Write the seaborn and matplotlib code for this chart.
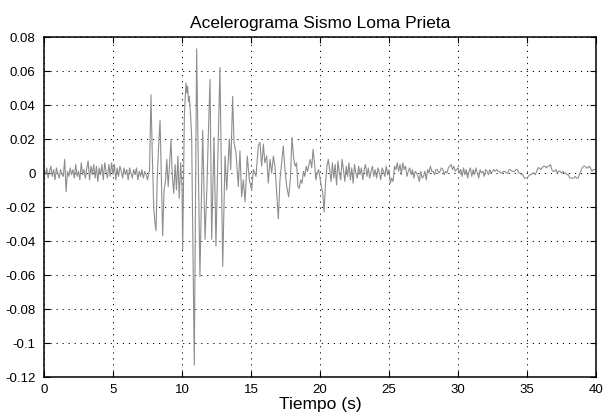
import numpy as np
import pandas as pd
import matplotlib
matplotlib.use("Agg")
import matplotlib.pyplot as plt
import seaborn as sns

# ---- data (acceleration in units of 1e-3 g) ----
t_quiet = np.round(np.arange(0.0, 7.61, 0.1), 2)
a_quiet = [2, -1, 3, -3, 1, 4, -2, 2, -4, 3,
           0, -3, 2, -1, -2, 8, -11, 1, -2, 3,
           -1, 2, -3, 5, -2, 1, -4, 6, -1, 2,
           -3, 3, 7, -4, 4, -1, 5, -3, 4, -5,
           3, -1, 5, -4, 6, 1, -3, 5, -2, 6,
           -1, 5, -4, 3, -2, 4, 1, -3, 3, -1,
           2, -4, 3, 0, -3, 2, -1, 3, -4, 1,
           -2, 2, -3, 1, -1, -4, 0]

t_strong = [7.65, 7.75, 7.85, 7.95, 8.05, 8.12, 8.2, 8.3, 8.41, 8.5,
            8.6, 8.7, 8.8, 8.9, 9.0, 9.1, 9.2, 9.3, 9.4, 9.5,
            9.6, 9.7, 9.8, 9.9, 10.0, 10.05, 10.17, 10.29, 10.35, 10.41,
            10.47, 10.53, 10.63, 10.7, 10.89, 11.06, 11.3, 11.5, 11.67, 11.8,
            11.9, 12.03, 12.15, 12.32, 12.46, 12.6, 12.75, 12.95, 13.12, 13.24,
            13.43, 13.53, 13.67, 13.77, 13.91, 14.08, 14.2, 14.32, 14.44, 14.57,
            14.73, 14.88, 15.05, 15.17, 15.36, 15.53, 15.65, 15.77, 15.9, 16.0,
            16.14, 16.25, 16.38, 16.5, 16.62, 16.74, 16.86, 16.98, 17.1, 17.22,
            17.34, 17.46, 17.59, 17.73, 17.85, 17.97]
a_strong = [2, 46, 10, -20, -30, -34, -5, 15, 31, 0,
            -37, -10, -5, 8, -8, 5, 19.5, -2, -12, 5,
            -10, 10, -15, 6, -8, -45, 34, 53, 47, 51,
            42, 45, 33, 21, -113, 73, -61, 25, -39, -10,
            20, 55, -39, 21, -43, 10, 62, -55, 10, -10,
            20, 2, 45, 18, 12, -8, 13, -14, -4, -17,
            10, -4, -10, 2, -2, 16, 18, 4, 17, 6,
            10, -6, 8, 0, 10, 4, -12, -27, -4, 6,
            16, 2, -8, -14, -4, 21]

t_decay = np.round(np.arange(18.1, 25.01, 0.1), 2)
a_decay = [8, 4, 6, -8, -9, -4, -6, 1, -2,
           4, 1, 5, 8, 3, 14, 6, -4, 0, 2,
           -3, -8, -12, -23, -6, 4, 8, 2, -5, 6,
           -3, 5, -7, 7, 0, -4, 8, 2, -5, 4,
           -2, 6, -4, 3, -6, 5, 0, -3, 4, -1,
           3, -4, 2, 5, -2, 3, -3, 1, 4, -2,
           2, -3, 3, 0, -4, 3, 1, -2, 4, -1,
           2]

t_tail = np.round(np.arange(25.1, 40.01, 0.1), 2)
a_tail = [-6, -3, -5, 4, 2, 6, 1, 5, -1,
          6, 2, 4, -2, 1, 3, -1, 2, -3, 1,
          0, -2, -5, 1, -3, -2, 1, -4, 2, 0,
          4, 1, 1, -1, 2, 2, 0, 1, 3, 2,
          -1, 1, 0, 3, 4, 5, 2, 4, 1, 2,
          3, 0, 2, -2, 3, -1, 2, -3, 1, 3,
          -2, 2, -1, 3, 0, -3, 2, 0, 1, -2,
          2, 1, -1, 2, 0, 1, 2, 1, 2, 1,
          1, 0, 0, 1, 1, 0, 0, 2, 2, 1,
          1, 1, 2, 2, 0, 0, -1, -1, -3, -3,
          -3, -2, -1, -1, 0, 0, -1, 1, 3, 3,
          2, 3, 4, 4, 3, 4, 4, 5, 2, 1,
          1, 2, 0, 1, 1, 0, 1, 0, 0, -1,
          -1, -3, -3, -3, -3, -2, -3, -3, -1, 1,
          3, 4, 4, 3, 3, 4, 3, 1, 2, 2,
          2]

x_ticks = [0, 5, 10, 15, 20, 25, 30, 35, 40]
y_ticks = [-0.12, -0.1, -0.08, -0.06, -0.04, -0.02, 0, 0.02, 0.04, 0.06, 0.08]
y_tick_labels = ["-0.12", "-0.1", "-0.08", "-0.06", "-0.04", "-0.02", "0",
                 "0.02", "0.04", "0.06", "0.08"]
title = "Acelerograma Sismo Loma Prieta"
xlabel = "Tiempo (s)"

df = pd.DataFrame({
    "t": np.concatenate([t_quiet, t_strong, t_decay, t_tail]),
    "a": np.concatenate([a_quiet, a_strong, a_decay, a_tail]) * 1e-3,
})

sns.set_theme(style="white")
plt.rcParams["font.family"] = ["Liberation Sans", "DejaVu Sans"]

fig = plt.figure(figsize=(6.04, 4.14), dpi=100)
ax = fig.add_axes([44 / 604, 1 - 378 / 414, 552 / 604, 340 / 414])

sns.lineplot(data=df, x="t", y="a", estimator=None, sort=False,
             color="#8e8e8e", linewidth=0.8, ax=ax)

ax.set_xlim(0, 40)
ax.set_ylim(-0.12, 0.08)
ax.set_xticks(x_ticks)
ax.set_xticklabels([str(v) for v in x_ticks])
ax.set_yticks(y_ticks)
ax.set_yticklabels(y_tick_labels)

ax.grid(True, color="black", linestyle=(0, (1.2, 5.0)), linewidth=0.7)
for s in ax.spines.values():
    s.set_color("black")
    s.set_linewidth(1.1)
    s.set_visible(True)

ax.tick_params(axis="both", direction="in", length=4, width=0.8,
               colors="black", labelsize=9.5)
ax.tick_params(axis="x", pad=4)
ax.tick_params(axis="y", pad=6)
ax.tick_params(top=True, right=True, bottom=True, left=True)

ax.set_title(title, fontsize=12.5, pad=7, color="black")
ax.set_xlabel(xlabel, fontsize=12.5, labelpad=1, color="black")
ax.set_ylabel("")

fig.savefig("out.png", dpi=100, facecolor="white")
